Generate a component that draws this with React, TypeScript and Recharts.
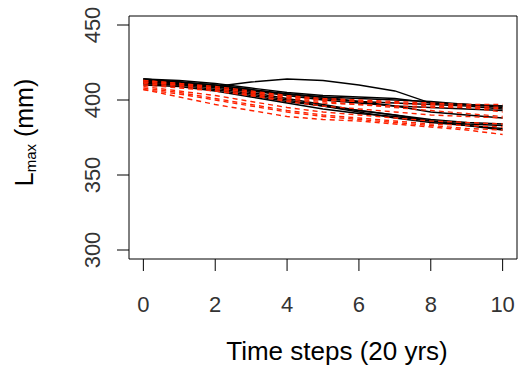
import { LineChart, Line, XAxis, YAxis, ReferenceArea, Label } from 'recharts';

const steps = [0, 1, 2, 3, 4, 5, 6, 7, 8, 9, 10];
const xTicks = [0, 2, 4, 6, 8, 10];
const yTicks = [300, 350, 400, 450];

const blackRuns = [
  [411, 410, 409, 412, 414, 413, 410, 406, 398, 397, 396],
  [414, 413, 411, 408, 405, 403, 402, 401, 398, 397, 396],
  [413, 412, 410, 407, 404, 401, 399, 398, 397, 396, 394],
  [412, 411, 409, 406, 403, 400, 398, 396, 395, 394, 393],
  [414, 412, 409, 405, 401, 397, 393, 390, 386, 384, 383],
  [411, 410, 407, 403, 399, 396, 393, 390, 387, 385, 384],
  [413, 411, 408, 404, 400, 396, 392, 388, 385, 383, 381],
  [410, 409, 406, 402, 398, 394, 391, 389, 386, 383, 380],
  [412, 411, 409, 406, 404, 402, 401, 400, 399, 397, 395],
  [414, 412, 410, 407, 404, 402, 399, 396, 392, 390, 388],
];

const redRuns = [
  [413, 411, 409, 406, 403, 401, 400, 399, 398, 397, 397],
  [412, 410, 408, 405, 402, 400, 399, 398, 397, 396, 395],
  [410, 408, 406, 403, 400, 398, 397, 396, 395, 395, 394],
  [411, 409, 406, 403, 399, 396, 394, 392, 390, 389, 388],
  [409, 406, 403, 399, 395, 392, 390, 388, 386, 385, 384],
  [408, 405, 401, 397, 393, 390, 388, 386, 384, 383, 382],
  [407, 404, 400, 396, 392, 389, 387, 385, 383, 381, 380],
  [407, 402, 397, 393, 389, 387, 386, 384, 382, 380, 377],
  [413, 411, 408, 405, 402, 400, 399, 398, 396, 395, 392],
  [412, 410, 407, 404, 401, 399, 397, 395, 393, 391, 389],
];

const rows = steps.map((t, i) => {
  const row: Record<string, number> = { t };
  blackRuns.forEach((s, k) => (row[`b${k}`] = s[i]));
  redRuns.forEach((s, k) => (row[`r${k}`] = s[i]));
  return row;
});

const FONT = '"Liberation Sans", Arial, sans-serif';
const INK = '#333';

function YTick({ y, payload }: any) {
  return (
    <text
      transform={`translate(92,${y}) rotate(-90)`}
      textAnchor="middle"
      dy="0.36em"
      fontSize={22}
      fontFamily={FONT}
      fill={INK}
    >
      {payload.value}
    </text>
  );
}

function XTick({ x, payload }: any) {
  return (
    <text x={x} y={312} textAnchor="middle" fontSize={22} fontFamily={FONT} fill={INK}>
      {payload.value}
    </text>
  );
}

function YTitle({ viewBox }: any) {
  const cy = viewBox.y + viewBox.height / 2 - 5;
  return (
    <text
      transform={`translate(33,${cy}) rotate(-90)`}
      textAnchor="middle"
      fontSize={25}
      fontFamily={FONT}
      fill="#000"
    >
      L<tspan fontSize={15} dy={3}>max</tspan>
      <tspan dy={-3}> (mm)</tspan>
    </text>
  );
}

function XTitle({ viewBox }: any) {
  const cx = viewBox.x + viewBox.width / 2 + 14;
  return (
    <text x={cx} y={360} textAnchor="middle" fontSize={26} fontFamily={FONT} fill="#000">
      Time steps (20 yrs)
    </text>
  );
}

export default function App() {
  return (
    <div style={{ position: 'absolute', left: 0, top: 0, background: '#fff' }}>
      <LineChart width={523} height={371} data={rows} margin={{ top: 16, right: 6, bottom: 0, left: 0 }}>
        <XAxis
          dataKey="t"
          type="number"
          domain={[-0.4, 10.4]}
          ticks={xTicks}
          allowDataOverflow
          axisLine={false}
          tickSize={12}
          tickLine={{ stroke: '#000' }}
          tick={<XTick />}
          height={112}
        >
          <Label content={<XTitle />} />
        </XAxis>
        <YAxis
          type="number"
          domain={[294, 456]}
          ticks={yTicks}
          allowDataOverflow
          axisLine={false}
          tickSize={12}
          tickLine={{ stroke: '#000' }}
          tick={<YTick />}
          width={129}
        >
          <Label content={<YTitle />} />
        </YAxis>
        <ReferenceArea x1={-0.4} x2={10.4} y1={294} y2={456} fill="none" stroke="#000" strokeWidth={1} ifOverflow="visible" />
        {blackRuns.map((_, k) => (
          <Line
            key={`b${k}`}
            dataKey={`b${k}`}
            stroke="#000"
            strokeWidth={1.3}
            dot={false}
            type="linear"
            isAnimationActive={false}
          />
        ))}
        {redRuns.map((_, k) => (
          <Line
            key={`r${k}`}
            dataKey={`r${k}`}
            stroke="#ff2200"
            strokeWidth={1.4}
            strokeDasharray="5 4"
            dot={false}
            type="linear"
            isAnimationActive={false}
          />
        ))}
      </LineChart>
    </div>
  );
}
